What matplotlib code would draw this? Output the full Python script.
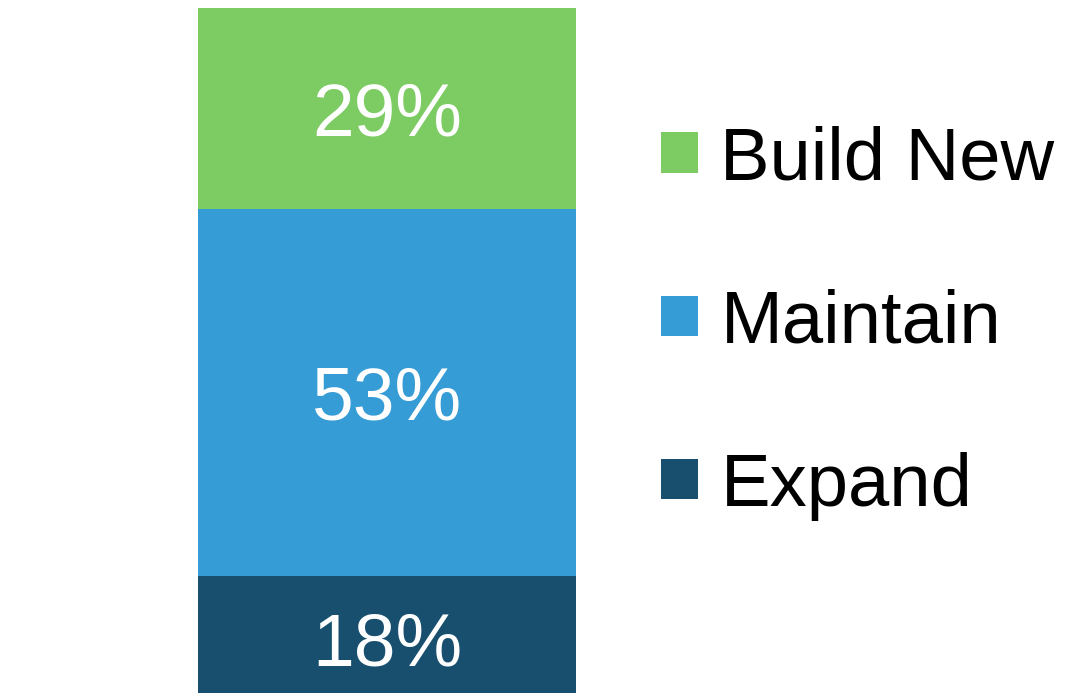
import matplotlib.pyplot as plt
from matplotlib.patches import Patch

plt.rcParams['font.family'] = ['Liberation Sans', 'DejaVu Sans']

# data (bottom -> top)
labels = ['Expand', 'Maintain', 'Build New']
values = [18, 53, 29]
colors = ['#184F6F', '#369CD6', '#7DCB63']

W, H = 1080, 693
fig = plt.figure(figsize=(W / 100, H / 100), dpi=100)

# bar axes: 100% at y=8px, 0% just below the image edge
top_px, zero_px = 8, 701
ax = fig.add_axes([198 / W, 1 - zero_px / H, (576 - 198) / W, (zero_px - top_px) / H])
ax.set_xlim(-0.5, 0.5)
ax.set_ylim(0, 100)
ax.axis('off')

bottom = 0
for lab, v, c in zip(labels, values, colors):
    ax.bar(0, v, width=1.0, bottom=bottom, color=c, linewidth=0)
    ax.text(0, bottom + v / 2, '%d%%' % v, color='white', fontsize=54,
            ha='center', va='center_baseline')
    bottom += v

handles = [Patch(facecolor=c, edgecolor='none', label=l) for l, c in zip(labels, colors)]
fig.legend(handles=handles[::-1], loc='upper left', bbox_to_anchor=(661 / W, 1 - 125 / H),
           frameon=False, fontsize=53.5, handlelength=0.5, handleheight=0.46,
           handletextpad=0.3, labelspacing=1.27, borderpad=0, borderaxespad=0)

fig.savefig('out.png', dpi=100)
